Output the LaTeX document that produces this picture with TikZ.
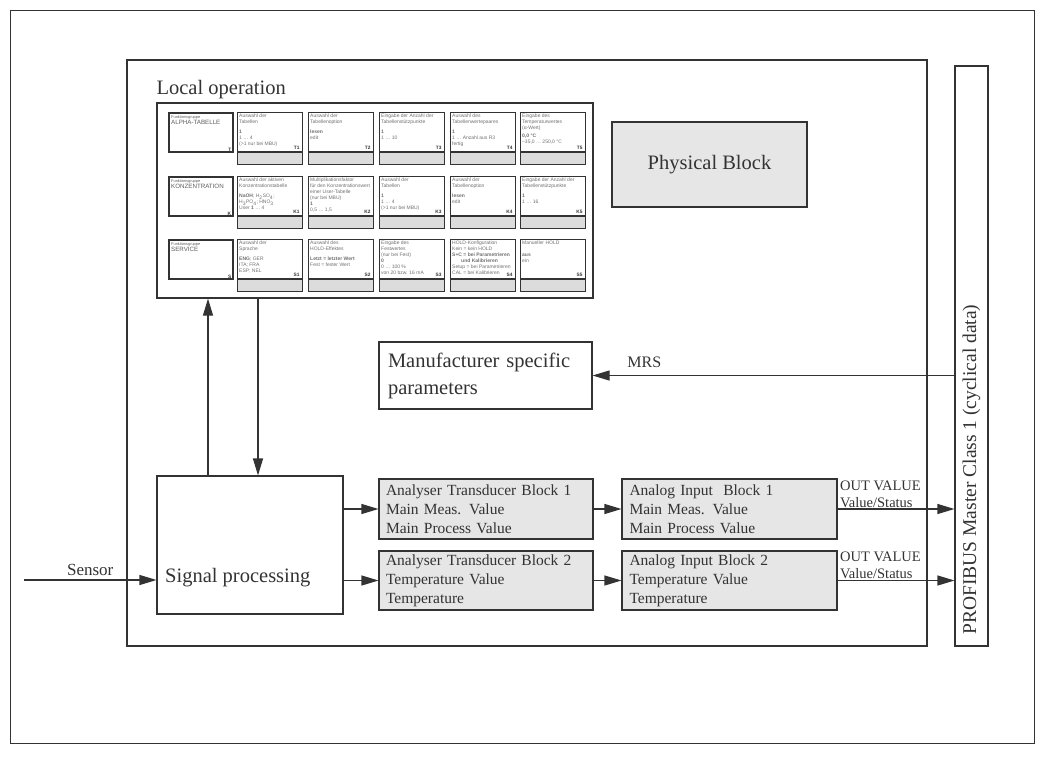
\documentclass[tikz,border=0pt]{standalone}
\usepackage{fontspec}
\setmainfont{Liberation Serif}
\newfontfamily\panelfont{Liberation Sans}
\usetikzlibrary{arrows.meta,positioning}

\definecolor{framegray}{HTML}{333333}
\definecolor{blockfill}{HTML}{E6E6E6}
\definecolor{celltext}{HTML}{707070}
\definecolor{stripfill}{HTML}{DCDCDC}

% one parameter cell of the local operation panel
\newcommand{\opcell}[5]{%
  \node[cellbox] (#1) at (#2,#3) {};
  \node[cellstrip] (#1s) at (#1.south west) {};
  \node[celltxt] (#1t) at (#1.north west) {#4};
  \node[celllbl] (#1l) at (#1.south east) {#5};
}
% function group cell
\newcommand{\grpcell}[5]{%
  \node[grpbox] (#1) at (#2,#3) {};
  \node[grptxt] (#1t) at (#1.north west) {Funktionsgruppe\\{\fontsize{6.2}{7.5}\selectfont #4}};
  \node[celllbl] (#1l) at (#1.south east) {#5};
}

\begin{document}
\begin{tikzpicture}[x=1pt,y=-1pt,
    box/.style={draw=framegray, line width=1.1pt, inner sep=0pt, text=framegray},
    gbox/.style={box, fill=blockfill},
    big/.style={font=\fontsize{20.5}{27}\selectfont, text=framegray},
    txt/.style={font=\fontsize{15.5}{19}\selectfont, align=left},
    conn/.style={draw=framegray, line width=1.1pt, -{Triangle[length=17pt,width=10pt]}},
    outlbl/.style={pos=0, anchor=south west, align=left, inner xsep=2pt, inner ysep=1pt,
      text=framegray, font=\fontsize{14.5}{17}\selectfont},
    cellbox/.style={draw=framegray, line width=0.7pt, anchor=north west,
      minimum width=65pt, minimum height=39pt, inner sep=0pt},
    cellstrip/.style={draw=framegray, line width=0.7pt, fill=stripfill, anchor=north west,
      minimum width=65pt, minimum height=12pt, inner sep=0pt},
    celltxt/.style={anchor=north west, inner sep=2pt, align=left, text=celltext,
      font=\panelfont\fontsize{5}{6}\selectfont},
    celllbl/.style={anchor=south east, inner xsep=3pt, inner ysep=2pt, text=framegray,
      font=\panelfont\bfseries\fontsize{4.8}{6}\selectfont},
    grpbox/.style={draw=framegray, line width=2.4pt, anchor=north west,
      minimum width=64pt, minimum height=39pt, inner sep=0pt},
    grptxt/.style={anchor=north west, inner xsep=3pt, inner ysep=3pt, align=left,
      text=framegray!80, font=\panelfont\fontsize{3.9}{5}\selectfont}]

\useasboundingbox (0,0) rectangle (1045,756);
\draw[framegray, line width=1pt] (10,10) rectangle (1034,743);

% device and bus
\node[box, line width=1.3pt, minimum width=800pt, minimum height=586pt] (dev) at (527,353) {};
\node[box, minimum width=33pt, minimum height=580pt] (pb) at (971.5,356) {};
\node[big, rotate=90, anchor=west, font=\fontsize{19.5}{22}\selectfont] (pbl) at (971.5,638) {PROFIBUS Master Class 1 (cyclical data)};

% local operation
\node[box, line width=1.2pt, minimum width=436pt, minimum height=195pt] (panel) at (375,200.5) {};
\node[big, anchor=south west, inner sep=0pt] (loclbl) at ([yshift=3pt]panel.north west) {Local operation};

\grpcell{gT}{168}{112}{ALPHA-TABELLE}{T}
\grpcell{gK}{168}{176}{KONZENTRATION}{K}
\grpcell{gS}{168}{239}{SERVICE}{S}

\opcell{T1}{237}{112}{Auswahl der\\Tabellen\\[4pt]\textbf{1}\\1 … 4\\(>1 nur bei MBU)}{T1}
\opcell{T2}{308}{112}{Auswahl der\\Tabellenoption\\[4pt]\textbf{lesen}\\edit}{T2}
\opcell{T3}{379}{112}{Eingabe der Anzahl der\\Tabellenstützpunkte\\[4pt]\textbf{1}\\1 … 10}{T3}
\opcell{T4}{450}{112}{Auswahl des\\Tabellenwertepaares\\[4pt]\textbf{1}\\1 … Anzahl aus R3\\fertig}{T4}
\opcell{T5}{520}{112}{Eingabe des\\Temperaturwertes\\(α-Wert)\\[2pt]\textbf{0,0 °C}\\–35,0 … 250,0 °C}{T5}

\opcell{K1}{237}{176}{Auswahl der aktiven\\Konzentrationstabelle\\[4pt]\textbf{NaOH}; H\textsubscript{2}SO\textsubscript{4};\\H\textsubscript{3}PO\textsubscript{4}; HNO\textsubscript{3}\\User \textbf{1} … 4}{K1}
\opcell{K2}{308}{176}{Multiplikationsfaktor\\für den Konzentrationswert\\einer User-Tabelle\\(nur bei MBU)\\\textbf{1}\\0,5 … 1,5}{K2}
\opcell{K3}{379}{176}{Auswahl der\\Tabellen\\[4pt]\textbf{1}\\1 … 4\\(>1 nur bei MBU)}{K3}
\opcell{K4}{450}{176}{Auswahl der\\Tabellenoption\\[4pt]\textbf{lesen}\\edit}{K4}
\opcell{K5}{520}{176}{Eingabe der Anzahl der\\Tabellenstützpunkte\\[4pt]\textbf{1}\\1 … 16}{K5}

\opcell{S1}{237}{239}{Auswahl der\\Sprache\\[4pt]\textbf{ENG}; GER\\ITA; FRA\\ESP; NEL}{S1}
\opcell{S2}{308}{239}{Auswahl des\\HOLD-Effektes\\[4pt]\textbf{Letzt = letzter Wert}\\Fest = fester Wert}{S2}
\opcell{S3}{379}{239}{Eingabe des\\Festwertes\\(nur bei Fest)\\\textbf{0}\\0 … 100 \%\\von 20 bzw. 16 mA}{S3}
\opcell{S4}{450}{239}{HOLD-Konfiguration\\Kein = kein HOLD\\\textbf{S+C = bei Parametrieren}\\\textbf{\hspace{9pt}und Kalibrieren}\\Setup = bei Parametrieren\\CAL = bei Kalibrieren}{S4}
\opcell{S5}{520}{239}{Manueller HOLD\\[6pt]\textbf{aus}\\ein}{S5}

% blocks
\node[gbox, big, minimum width=195pt, minimum height=85pt] (phys) at (709.5,164.5) {Physical Block};
\node[box, big, minimum width=213pt, minimum height=67pt, text width=195pt, align=left] (mfr) at (485.5,375.5) {Manufacturer specific\\parameters};

\node[box, minimum width=186pt, minimum height=138pt] (sig) at (250,545) {};
\node[big, anchor=west, inner sep=0pt] (siglbl) at (165,578) {Signal processing};

\node[gbox, txt, minimum width=214pt, minimum height=60pt, text width=200pt] (at1) at (486,509) {Analyser Transducer Block 1\\Main Meas. Value\\Main Process Value};
\node[gbox, txt, minimum width=214pt, minimum height=59pt, text width=200pt] (at2) at (486,580.5) {Analyser Transducer Block 2\\Temperature Value\\Temperature};
\node[gbox, txt, minimum width=215pt, minimum height=60pt, text width=200pt] (ai1) at (729.5,509) {Analog Input\ \ Block 1\\Main Meas. Value\\Main Process Value};
\node[gbox, txt, minimum width=215pt, minimum height=59pt, text width=200pt] (ai2) at (729.5,580.5) {Analog Input Block 2\\Temperature Value\\Temperature};

% connectors
\coordinate (upx) at ([xshift=-42pt]sig.north);
\coordinate (downx) at ([xshift=8pt]sig.north);
\draw[conn] (upx) -- (upx |- panel.south);
\draw[conn] (downx |- panel.south) -- (downx);

\draw[conn] (pb.west |- mfr) -- node[pos=0.857, above, yshift=4pt, text=framegray, font=\fontsize{16}{18}\selectfont] {MRS} (mfr);

\coordinate (sens) at (24,580);
\draw[conn] (sens) -- node[above, text=framegray, font=\fontsize{17}{20}\selectfont] {Sensor} (sens -| sig.west);

\draw[conn] (sig.east |- at1) -- (at1);
\draw[conn] (sig.east |- at2) -- (at2);
\draw[conn] (at1) -- (ai1);
\draw[conn] (at2) -- (ai2);
\draw[conn] (ai1) -- node[outlbl] {OUT VALUE\\Value/Status} (ai1 -| pb.west);
\draw[conn] (ai2) -- node[outlbl] {OUT VALUE\\Value/Status} (ai2 -| pb.west);
\end{tikzpicture}
\end{document}
